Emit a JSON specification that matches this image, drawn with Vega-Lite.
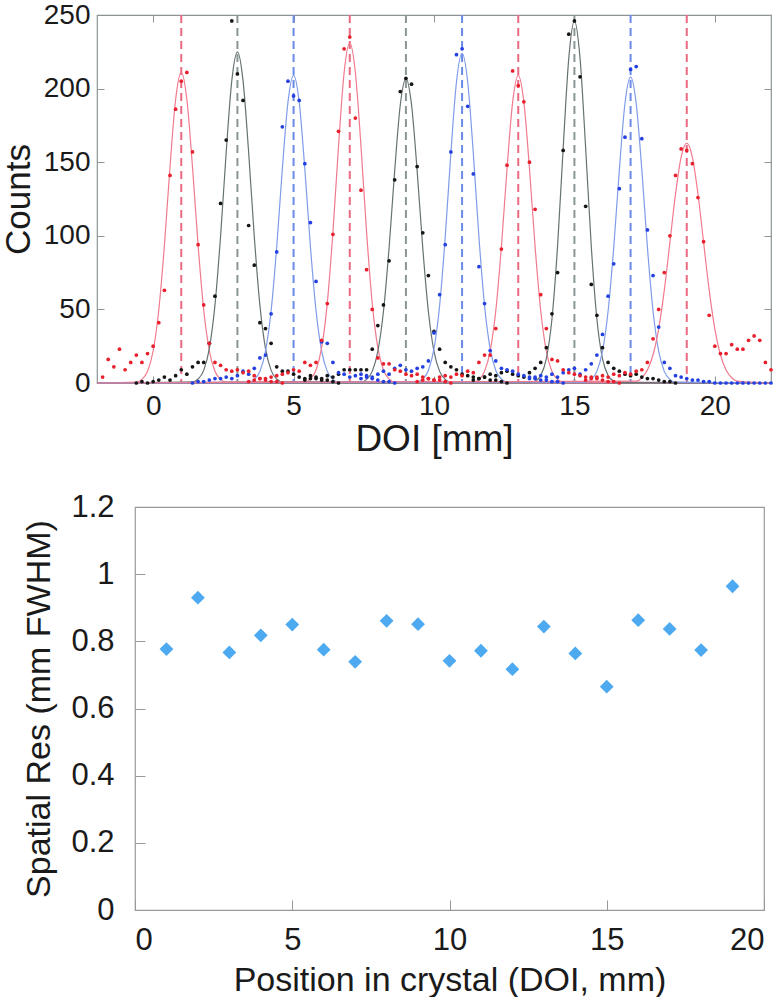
{
"$schema": "https://vega.github.io/schema/vega-lite/v6.json",
"padding": 0,
"config": {
 "view": {"stroke": null},
 "font": "Liberation Sans",
 "axis": {"grid": false, "domain": false, "labelColor": "#1a1a1a", "titleColor": "#1a1a1a", "titleFontWeight": "normal", "labelFont": "Liberation Sans", "titleFont": "Liberation Sans"}
},
"datasets": {
 "peaks": [
  {"s":"red","x":1},{"s":"black","x":3},{"s":"blue","x":5},{"s":"red","x":7},{"s":"black","x":9},
  {"s":"blue","x":11},{"s":"red","x":13},{"s":"black","x":15},{"s":"blue","x":17},{"s":"red","x":19}
 ],
 "fits": [
  {"s":"red","g":1,"x":-2,"y":0},{"s":"red","g":1,"x":-0.6,"y":0.6},{"s":"red","g":1,"x":-0.4,"y":2.5},{"s":"red","g":1,"x":-0.2,"y":8.0},{"s":"red","g":1,"x":0,"y":21.9},{"s":"red","g":1,"x":0.2,"y":49.6},{"s":"red","g":1,"x":0.4,"y":93.5},{"s":"red","g":1,"x":0.6,"y":146.9},{"s":"red","g":1,"x":0.8,"y":192.6},{"s":"red","g":1,"x":1.0,"y":211},{"s":"red","g":1,"x":1.2,"y":192.6},{"s":"red","g":1,"x":1.4,"y":146.9},{"s":"red","g":1,"x":1.6,"y":93.5},{"s":"red","g":1,"x":1.8,"y":49.6},{"s":"red","g":1,"x":2.0,"y":21.9},{"s":"red","g":1,"x":2.2,"y":8.0},{"s":"red","g":1,"x":2.4,"y":2.5},{"s":"red","g":1,"x":2.6,"y":0.6},{"s":"red","g":1,"x":22,"y":0},
  {"s":"black","g":2,"x":-2,"y":0},{"s":"black","g":2,"x":1.4,"y":0.7},{"s":"black","g":2,"x":1.6,"y":2.7},{"s":"black","g":2,"x":1.8,"y":8.6},{"s":"black","g":2,"x":2.0,"y":23.4},{"s":"black","g":2,"x":2.2,"y":52.9},{"s":"black","g":2,"x":2.4,"y":99.7},{"s":"black","g":2,"x":2.6,"y":156.6},{"s":"black","g":2,"x":2.8,"y":205.4},{"s":"black","g":2,"x":3.0,"y":225},{"s":"black","g":2,"x":3.2,"y":205.4},{"s":"black","g":2,"x":3.4,"y":156.6},{"s":"black","g":2,"x":3.6,"y":99.7},{"s":"black","g":2,"x":3.8,"y":52.9},{"s":"black","g":2,"x":4.0,"y":23.4},{"s":"black","g":2,"x":4.2,"y":8.6},{"s":"black","g":2,"x":4.4,"y":2.7},{"s":"black","g":2,"x":4.6,"y":0.7},{"s":"black","g":2,"x":22,"y":0},
  {"s":"blue","g":3,"x":-2,"y":0},{"s":"blue","g":3,"x":3.4,"y":0.6},{"s":"blue","g":3,"x":3.6,"y":2.5},{"s":"blue","g":3,"x":3.8,"y":7.9},{"s":"blue","g":3,"x":4.0,"y":21.7},{"s":"blue","g":3,"x":4.2,"y":49.1},{"s":"blue","g":3,"x":4.4,"y":92.6},{"s":"blue","g":3,"x":4.6,"y":145.5},{"s":"blue","g":3,"x":4.8,"y":190.8},{"s":"blue","g":3,"x":5.0,"y":209},{"s":"blue","g":3,"x":5.2,"y":190.8},{"s":"blue","g":3,"x":5.4,"y":145.5},{"s":"blue","g":3,"x":5.6,"y":92.6},{"s":"blue","g":3,"x":5.8,"y":49.1},{"s":"blue","g":3,"x":6.0,"y":21.7},{"s":"blue","g":3,"x":6.2,"y":7.9},{"s":"blue","g":3,"x":6.4,"y":2.5},{"s":"blue","g":3,"x":6.6,"y":0.6},{"s":"blue","g":3,"x":22,"y":0},
  {"s":"red","g":4,"x":-2,"y":0},{"s":"red","g":4,"x":5.4,"y":0.7},{"s":"red","g":4,"x":5.6,"y":2.8},{"s":"red","g":4,"x":5.8,"y":8.8},{"s":"red","g":4,"x":6.0,"y":24.0},{"s":"red","g":4,"x":6.2,"y":54.3},{"s":"red","g":4,"x":6.4,"y":102.3},{"s":"red","g":4,"x":6.6,"y":160.8},{"s":"red","g":4,"x":6.8,"y":210.9},{"s":"red","g":4,"x":7.0,"y":231},{"s":"red","g":4,"x":7.2,"y":210.9},{"s":"red","g":4,"x":7.4,"y":160.8},{"s":"red","g":4,"x":7.6,"y":102.3},{"s":"red","g":4,"x":7.8,"y":54.3},{"s":"red","g":4,"x":8.0,"y":24.0},{"s":"red","g":4,"x":8.2,"y":8.8},{"s":"red","g":4,"x":8.4,"y":2.8},{"s":"red","g":4,"x":8.6,"y":0.7},{"s":"red","g":4,"x":22,"y":0},
  {"s":"black","g":5,"x":-2,"y":0},{"s":"black","g":5,"x":7.4,"y":0.6},{"s":"black","g":5,"x":7.6,"y":2.5},{"s":"black","g":5,"x":7.8,"y":7.9},{"s":"black","g":5,"x":8.0,"y":21.5},{"s":"black","g":5,"x":8.2,"y":48.6},{"s":"black","g":5,"x":8.4,"y":91.7},{"s":"black","g":5,"x":8.6,"y":144.1},{"s":"black","g":5,"x":8.8,"y":189.0},{"s":"black","g":5,"x":9.0,"y":207},{"s":"black","g":5,"x":9.2,"y":189.0},{"s":"black","g":5,"x":9.4,"y":144.1},{"s":"black","g":5,"x":9.6,"y":91.7},{"s":"black","g":5,"x":9.8,"y":48.6},{"s":"black","g":5,"x":10.0,"y":21.5},{"s":"black","g":5,"x":10.2,"y":7.9},{"s":"black","g":5,"x":10.4,"y":2.5},{"s":"black","g":5,"x":10.6,"y":0.6},{"s":"black","g":5,"x":22,"y":0},
  {"s":"blue","g":6,"x":-2,"y":0},{"s":"blue","g":6,"x":9.4,"y":0.7},{"s":"blue","g":6,"x":9.6,"y":2.7},{"s":"blue","g":6,"x":9.8,"y":8.5},{"s":"blue","g":6,"x":10.0,"y":23.3},{"s":"blue","g":6,"x":10.2,"y":52.6},{"s":"blue","g":6,"x":10.4,"y":99.2},{"s":"blue","g":6,"x":10.6,"y":155.9},{"s":"blue","g":6,"x":10.8,"y":204.5},{"s":"blue","g":6,"x":11.0,"y":224},{"s":"blue","g":6,"x":11.2,"y":204.5},{"s":"blue","g":6,"x":11.4,"y":155.9},{"s":"blue","g":6,"x":11.6,"y":99.2},{"s":"blue","g":6,"x":11.8,"y":52.6},{"s":"blue","g":6,"x":12.0,"y":23.3},{"s":"blue","g":6,"x":12.2,"y":8.5},{"s":"blue","g":6,"x":12.4,"y":2.7},{"s":"blue","g":6,"x":12.6,"y":0.7},{"s":"blue","g":6,"x":22,"y":0},
  {"s":"red","g":7,"x":-2,"y":0},{"s":"red","g":7,"x":11.4,"y":0.6},{"s":"red","g":7,"x":11.6,"y":2.5},{"s":"red","g":7,"x":11.8,"y":7.9},{"s":"red","g":7,"x":12.0,"y":21.7},{"s":"red","g":7,"x":12.2,"y":49.1},{"s":"red","g":7,"x":12.4,"y":92.6},{"s":"red","g":7,"x":12.6,"y":145.5},{"s":"red","g":7,"x":12.8,"y":190.8},{"s":"red","g":7,"x":13.0,"y":209},{"s":"red","g":7,"x":13.2,"y":190.8},{"s":"red","g":7,"x":13.4,"y":145.5},{"s":"red","g":7,"x":13.6,"y":92.6},{"s":"red","g":7,"x":13.8,"y":49.1},{"s":"red","g":7,"x":14.0,"y":21.7},{"s":"red","g":7,"x":14.2,"y":7.9},{"s":"red","g":7,"x":14.4,"y":2.5},{"s":"red","g":7,"x":14.6,"y":0.6},{"s":"red","g":7,"x":22,"y":0},
  {"s":"black","g":8,"x":-2,"y":0},{"s":"black","g":8,"x":13.4,"y":0.2},{"s":"black","g":8,"x":13.6,"y":1.2},{"s":"black","g":8,"x":13.8,"y":5.0},{"s":"black","g":8,"x":14.0,"y":16.5},{"s":"black","g":8,"x":14.2,"y":43.5},{"s":"black","g":8,"x":14.4,"y":93.0},{"s":"black","g":8,"x":14.6,"y":159.7},{"s":"black","g":8,"x":14.8,"y":220.7},{"s":"black","g":8,"x":15.0,"y":246},{"s":"black","g":8,"x":15.2,"y":220.7},{"s":"black","g":8,"x":15.4,"y":159.7},{"s":"black","g":8,"x":15.6,"y":93.0},{"s":"black","g":8,"x":15.8,"y":43.5},{"s":"black","g":8,"x":16.0,"y":16.5},{"s":"black","g":8,"x":16.2,"y":5.0},{"s":"black","g":8,"x":16.4,"y":1.2},{"s":"black","g":8,"x":16.6,"y":0.2},{"s":"black","g":8,"x":22,"y":0},
  {"s":"blue","g":9,"x":-2,"y":0},{"s":"blue","g":9,"x":15.4,"y":0.6},{"s":"blue","g":9,"x":15.6,"y":2.5},{"s":"blue","g":9,"x":15.8,"y":7.9},{"s":"blue","g":9,"x":16.0,"y":21.6},{"s":"blue","g":9,"x":16.2,"y":48.9},{"s":"blue","g":9,"x":16.4,"y":92.1},{"s":"blue","g":9,"x":16.6,"y":144.8},{"s":"blue","g":9,"x":16.8,"y":189.9},{"s":"blue","g":9,"x":17.0,"y":208},{"s":"blue","g":9,"x":17.2,"y":189.9},{"s":"blue","g":9,"x":17.4,"y":144.8},{"s":"blue","g":9,"x":17.6,"y":92.1},{"s":"blue","g":9,"x":17.8,"y":48.9},{"s":"blue","g":9,"x":18.0,"y":21.6},{"s":"blue","g":9,"x":18.2,"y":7.9},{"s":"blue","g":9,"x":18.4,"y":2.5},{"s":"blue","g":9,"x":18.6,"y":0.6},{"s":"blue","g":9,"x":22,"y":0},
  {"s":"red","g":10,"x":-2,"y":0},{"s":"red","g":10,"x":17.2,"y":1.3},{"s":"red","g":10,"x":17.4,"y":3.6},{"s":"red","g":10,"x":17.6,"y":8.8},{"s":"red","g":10,"x":17.8,"y":19.2},{"s":"red","g":10,"x":18.0,"y":36.8},{"s":"red","g":10,"x":18.2,"y":62.9},{"s":"red","g":10,"x":18.4,"y":95.5},{"s":"red","g":10,"x":18.6,"y":128.4},{"s":"red","g":10,"x":18.8,"y":153.5},{"s":"red","g":10,"x":19.0,"y":163},{"s":"red","g":10,"x":19.2,"y":153.5},{"s":"red","g":10,"x":19.4,"y":128.4},{"s":"red","g":10,"x":19.6,"y":95.5},{"s":"red","g":10,"x":19.8,"y":62.9},{"s":"red","g":10,"x":20.0,"y":36.8},{"s":"red","g":10,"x":20.2,"y":19.2},{"s":"red","g":10,"x":20.4,"y":8.8},{"s":"red","g":10,"x":20.6,"y":3.6},{"s":"red","g":10,"x":20.8,"y":1.3},{"s":"red","g":10,"x":22,"y":0}
 ],
 "dots": [
  {"s":"black","x":-0.6,"y":0},{"s":"black","x":-0.4,"y":1},{"s":"black","x":-0.2,"y":0},{"s":"black","x":0,"y":1},{"s":"black","x":0.2,"y":2},{"s":"black","x":0.4,"y":4},{"s":"black","x":0.6,"y":2},{"s":"black","x":0.8,"y":5},{"s":"black","x":1,"y":9},{"s":"black","x":1.2,"y":6},{"s":"black","x":1.4,"y":11},{"s":"black","x":1.6,"y":14},{"s":"black","x":1.8,"y":14},{"s":"black","x":2,"y":27},{"s":"black","x":2.2,"y":59},{"s":"black","x":2.4,"y":122},{"s":"black","x":2.6,"y":165},{"s":"black","x":2.8,"y":246},{"s":"black","x":3,"y":210},{"s":"black","x":3.2,"y":192},{"s":"black","x":3.4,"y":107},{"s":"black","x":3.6,"y":80},{"s":"black","x":3.8,"y":41},{"s":"black","x":4,"y":37},{"s":"black","x":4.2,"y":27},{"s":"black","x":4.4,"y":11},{"s":"black","x":4.6,"y":8},{"s":"black","x":4.8,"y":8},{"s":"black","x":5,"y":6},{"s":"black","x":5.2,"y":4},{"s":"black","x":5.4,"y":3},{"s":"black","x":5.6,"y":5},{"s":"black","x":5.8,"y":3},{"s":"black","x":6,"y":2},{"s":"black","x":6.2,"y":2},{"s":"black","x":6.4,"y":1},{"s":"black","x":6.6,"y":0},
  {"s":"black","x":5.4,"y":2},{"s":"black","x":5.6,"y":3},{"s":"black","x":5.8,"y":4},{"s":"black","x":6,"y":3},{"s":"black","x":6.2,"y":5},{"s":"black","x":6.4,"y":4},{"s":"black","x":6.6,"y":6},{"s":"black","x":6.8,"y":9},{"s":"black","x":7,"y":9},{"s":"black","x":7.2,"y":9},{"s":"black","x":7.4,"y":9},{"s":"black","x":7.6,"y":9},{"s":"black","x":7.8,"y":23},{"s":"black","x":8,"y":39},{"s":"black","x":8.2,"y":53},{"s":"black","x":8.4,"y":83},{"s":"black","x":8.6,"y":138},{"s":"black","x":8.8,"y":198},{"s":"black","x":9,"y":207},{"s":"black","x":9.2,"y":203},{"s":"black","x":9.4,"y":147},{"s":"black","x":9.6,"y":102},{"s":"black","x":9.8,"y":73},{"s":"black","x":10,"y":35},{"s":"black","x":10.2,"y":23},{"s":"black","x":10.4,"y":14},{"s":"black","x":10.6,"y":11},{"s":"black","x":10.8,"y":9},{"s":"black","x":11,"y":6},{"s":"black","x":11.2,"y":5},{"s":"black","x":11.4,"y":4},{"s":"black","x":11.6,"y":3},{"s":"black","x":11.8,"y":4},{"s":"black","x":12,"y":2},{"s":"black","x":12.2,"y":2},{"s":"black","x":12.4,"y":1},{"s":"black","x":12.6,"y":0},
  {"s":"black","x":11.4,"y":2},{"s":"black","x":11.6,"y":3},{"s":"black","x":11.8,"y":4},{"s":"black","x":12,"y":6},{"s":"black","x":12.2,"y":5},{"s":"black","x":12.4,"y":7},{"s":"black","x":12.6,"y":8},{"s":"black","x":12.8,"y":6},{"s":"black","x":13,"y":5},{"s":"black","x":13.2,"y":4},{"s":"black","x":13.4,"y":7},{"s":"black","x":13.6,"y":10},{"s":"black","x":13.8,"y":14},{"s":"black","x":14,"y":24},{"s":"black","x":14.2,"y":47},{"s":"black","x":14.4,"y":75},{"s":"black","x":14.6,"y":158},{"s":"black","x":14.8,"y":237},{"s":"black","x":15,"y":246},{"s":"black","x":15.2,"y":208},{"s":"black","x":15.4,"y":120},{"s":"black","x":15.6,"y":67},{"s":"black","x":15.8,"y":46},{"s":"black","x":16,"y":24},{"s":"black","x":16.2,"y":14},{"s":"black","x":16.4,"y":10},{"s":"black","x":16.6,"y":8},{"s":"black","x":16.8,"y":6},{"s":"black","x":17,"y":5},{"s":"black","x":17.2,"y":6},{"s":"black","x":17.4,"y":4},{"s":"black","x":17.6,"y":3},{"s":"black","x":17.8,"y":3},{"s":"black","x":18,"y":2},{"s":"black","x":18.2,"y":1},{"s":"black","x":18.4,"y":1},{"s":"black","x":18.6,"y":0},
  {"s":"blue","x":1.4,"y":0},{"s":"blue","x":1.6,"y":1},{"s":"blue","x":1.8,"y":1},{"s":"blue","x":2,"y":2},{"s":"blue","x":2.2,"y":3},{"s":"blue","x":2.4,"y":3},{"s":"blue","x":2.6,"y":4},{"s":"blue","x":2.8,"y":3},{"s":"blue","x":3,"y":5},{"s":"blue","x":3.2,"y":8},{"s":"blue","x":3.4,"y":6},{"s":"blue","x":3.6,"y":10},{"s":"blue","x":3.8,"y":17},{"s":"blue","x":4,"y":19},{"s":"blue","x":4.2,"y":47},{"s":"blue","x":4.4,"y":89},{"s":"blue","x":4.6,"y":174},{"s":"blue","x":4.8,"y":205},{"s":"blue","x":5,"y":195},{"s":"blue","x":5.2,"y":192},{"s":"blue","x":5.4,"y":149},{"s":"blue","x":5.6,"y":109},{"s":"blue","x":5.8,"y":69},{"s":"blue","x":6,"y":28},{"s":"blue","x":6.2,"y":27},{"s":"blue","x":6.4,"y":14},{"s":"blue","x":6.6,"y":7},{"s":"blue","x":6.8,"y":6},{"s":"blue","x":7,"y":4},{"s":"blue","x":7.2,"y":5},{"s":"blue","x":7.4,"y":6},{"s":"blue","x":7.6,"y":4},{"s":"blue","x":7.8,"y":3},{"s":"blue","x":8,"y":2},{"s":"blue","x":8.2,"y":1},{"s":"blue","x":8.4,"y":1},{"s":"blue","x":8.6,"y":0},
  {"s":"blue","x":7.4,"y":3},{"s":"blue","x":7.6,"y":5},{"s":"blue","x":7.8,"y":4},{"s":"blue","x":8,"y":6},{"s":"blue","x":8.2,"y":8},{"s":"blue","x":8.4,"y":6},{"s":"blue","x":8.6,"y":10},{"s":"blue","x":8.8,"y":12},{"s":"blue","x":9,"y":9},{"s":"blue","x":9.2,"y":8},{"s":"blue","x":9.4,"y":10},{"s":"blue","x":9.6,"y":11},{"s":"blue","x":9.8,"y":15},{"s":"blue","x":10,"y":34},{"s":"blue","x":10.2,"y":60},{"s":"blue","x":10.4,"y":94},{"s":"blue","x":10.6,"y":157},{"s":"blue","x":10.8,"y":223},{"s":"blue","x":11,"y":227},{"s":"blue","x":11.2,"y":188},{"s":"blue","x":11.4,"y":142},{"s":"blue","x":11.6,"y":79},{"s":"blue","x":11.8,"y":54},{"s":"blue","x":12,"y":22},{"s":"blue","x":12.2,"y":15},{"s":"blue","x":12.4,"y":10},{"s":"blue","x":12.6,"y":9},{"s":"blue","x":12.8,"y":8},{"s":"blue","x":13,"y":6},{"s":"blue","x":13.2,"y":5},{"s":"blue","x":13.4,"y":4},{"s":"blue","x":13.6,"y":3},{"s":"blue","x":13.8,"y":2},{"s":"blue","x":14,"y":2},{"s":"blue","x":14.2,"y":1},{"s":"blue","x":14.4,"y":1},{"s":"blue","x":14.6,"y":0},
  {"s":"blue","x":13.4,"y":3},{"s":"blue","x":13.6,"y":4},{"s":"blue","x":13.8,"y":5},{"s":"blue","x":14,"y":4},{"s":"blue","x":14.2,"y":6},{"s":"blue","x":14.4,"y":4},{"s":"blue","x":14.6,"y":7},{"s":"blue","x":14.8,"y":9},{"s":"blue","x":15,"y":10},{"s":"blue","x":15.2,"y":6},{"s":"blue","x":15.4,"y":9},{"s":"blue","x":15.6,"y":13},{"s":"blue","x":15.8,"y":19},{"s":"blue","x":16,"y":33},{"s":"blue","x":16.2,"y":59},{"s":"blue","x":16.4,"y":81},{"s":"blue","x":16.6,"y":132},{"s":"blue","x":16.8,"y":167},{"s":"blue","x":17,"y":213},{"s":"blue","x":17.2,"y":215},{"s":"blue","x":17.4,"y":166},{"s":"blue","x":17.6,"y":104},{"s":"blue","x":17.8,"y":73},{"s":"blue","x":18,"y":38},{"s":"blue","x":18.2,"y":14},{"s":"blue","x":18.4,"y":10},{"s":"blue","x":18.6,"y":5},{"s":"blue","x":18.8,"y":4},{"s":"blue","x":19,"y":3},{"s":"blue","x":19.2,"y":2},{"s":"blue","x":19.4,"y":2},{"s":"blue","x":19.6,"y":1},{"s":"blue","x":19.8,"y":1},{"s":"blue","x":20,"y":0},{"s":"blue","x":20.2,"y":0},{"s":"blue","x":20.4,"y":0},{"s":"blue","x":20.6,"y":0},{"s":"blue","x":20.8,"y":0},{"s":"blue","x":21,"y":0},{"s":"blue","x":21.2,"y":0},{"s":"blue","x":21.4,"y":0},{"s":"blue","x":21.6,"y":0},{"s":"blue","x":21.8,"y":0},{"s":"blue","x":22,"y":0},
  {"s":"red","x":-1.8,"y":4},{"s":"red","x":-1.6,"y":16},{"s":"red","x":-1.4,"y":11},{"s":"red","x":-1.2,"y":23},{"s":"red","x":-1,"y":9},{"s":"red","x":-0.8,"y":14},{"s":"red","x":-0.6,"y":19},{"s":"red","x":-0.4,"y":14},{"s":"red","x":-0.2,"y":20},{"s":"red","x":0,"y":25},{"s":"red","x":0.2,"y":41},{"s":"red","x":0.4,"y":63},{"s":"red","x":0.6,"y":141},{"s":"red","x":0.8,"y":186},{"s":"red","x":1,"y":205},{"s":"red","x":1.2,"y":211},{"s":"red","x":1.4,"y":157},{"s":"red","x":1.6,"y":94},{"s":"red","x":1.8,"y":53},{"s":"red","x":2,"y":27},{"s":"red","x":2.2,"y":14},{"s":"red","x":2.4,"y":12},{"s":"red","x":2.6,"y":9},{"s":"red","x":2.8,"y":8},{"s":"red","x":3,"y":9},{"s":"red","x":3.2,"y":7},{"s":"red","x":3.4,"y":8},{"s":"red","x":3.6,"y":5},{"s":"red","x":3.8,"y":3},{"s":"red","x":4,"y":2},{"s":"red","x":4.2,"y":1},{"s":"red","x":4.4,"y":1},{"s":"red","x":4.6,"y":0},
  {"s":"red","x":3.4,"y":1},{"s":"red","x":3.6,"y":2},{"s":"red","x":3.8,"y":3},{"s":"red","x":4,"y":3},{"s":"red","x":4.2,"y":4},{"s":"red","x":4.4,"y":5},{"s":"red","x":4.6,"y":6},{"s":"red","x":4.8,"y":7},{"s":"red","x":5,"y":9},{"s":"red","x":5.2,"y":8},{"s":"red","x":5.4,"y":14},{"s":"red","x":5.6,"y":12},{"s":"red","x":5.8,"y":14},{"s":"red","x":6,"y":29},{"s":"red","x":6.2,"y":54},{"s":"red","x":6.4,"y":101},{"s":"red","x":6.6,"y":171},{"s":"red","x":6.8,"y":227},{"s":"red","x":7,"y":235},{"s":"red","x":7.2,"y":180},{"s":"red","x":7.4,"y":131},{"s":"red","x":7.6,"y":77},{"s":"red","x":7.8,"y":50},{"s":"red","x":8,"y":17},{"s":"red","x":8.2,"y":13},{"s":"red","x":8.4,"y":13},{"s":"red","x":8.6,"y":9},{"s":"red","x":8.8,"y":8},{"s":"red","x":9,"y":6},{"s":"red","x":9.2,"y":5},{"s":"red","x":9.4,"y":6},{"s":"red","x":9.6,"y":4},{"s":"red","x":9.8,"y":3},{"s":"red","x":10,"y":2},{"s":"red","x":10.2,"y":2},{"s":"red","x":10.4,"y":1},{"s":"red","x":10.6,"y":0},
  {"s":"red","x":9.4,"y":1},{"s":"red","x":9.6,"y":2},{"s":"red","x":9.8,"y":3},{"s":"red","x":10,"y":2},{"s":"red","x":10.2,"y":4},{"s":"red","x":10.4,"y":5},{"s":"red","x":10.6,"y":4},{"s":"red","x":10.8,"y":6},{"s":"red","x":11,"y":5},{"s":"red","x":11.2,"y":8},{"s":"red","x":11.4,"y":7},{"s":"red","x":11.6,"y":14},{"s":"red","x":11.8,"y":19},{"s":"red","x":12,"y":19},{"s":"red","x":12.2,"y":37},{"s":"red","x":12.4,"y":91},{"s":"red","x":12.6,"y":148},{"s":"red","x":12.8,"y":212},{"s":"red","x":13,"y":202},{"s":"red","x":13.2,"y":191},{"s":"red","x":13.4,"y":150},{"s":"red","x":13.6,"y":118},{"s":"red","x":13.8,"y":60},{"s":"red","x":14,"y":37},{"s":"red","x":14.2,"y":16},{"s":"red","x":14.4,"y":15},{"s":"red","x":14.6,"y":9},{"s":"red","x":14.8,"y":7},{"s":"red","x":15,"y":6},{"s":"red","x":15.2,"y":5},{"s":"red","x":15.4,"y":4},{"s":"red","x":15.6,"y":4},{"s":"red","x":15.8,"y":3},{"s":"red","x":16,"y":2},{"s":"red","x":16.2,"y":1},{"s":"red","x":16.4,"y":1},{"s":"red","x":16.6,"y":0},
  {"s":"red","x":15.4,"y":2},{"s":"red","x":15.6,"y":3},{"s":"red","x":15.8,"y":4},{"s":"red","x":16,"y":5},{"s":"red","x":16.2,"y":4},{"s":"red","x":16.4,"y":6},{"s":"red","x":16.6,"y":5},{"s":"red","x":16.8,"y":7},{"s":"red","x":17,"y":6},{"s":"red","x":17.2,"y":8},{"s":"red","x":17.4,"y":9},{"s":"red","x":17.6,"y":14},{"s":"red","x":17.8,"y":30},{"s":"red","x":18,"y":50},{"s":"red","x":18.2,"y":75},{"s":"red","x":18.4,"y":100},{"s":"red","x":18.6,"y":141},{"s":"red","x":18.8,"y":159},{"s":"red","x":19,"y":158},{"s":"red","x":19.2,"y":149},{"s":"red","x":19.4,"y":126},{"s":"red","x":19.6,"y":96},{"s":"red","x":19.8,"y":46},{"s":"red","x":20,"y":25},{"s":"red","x":20.2,"y":20},{"s":"red","x":20.4,"y":20},{"s":"red","x":20.6,"y":26},{"s":"red","x":20.8,"y":23},{"s":"red","x":21,"y":23},{"s":"red","x":21.2,"y":29},{"s":"red","x":21.4,"y":32},{"s":"red","x":21.6,"y":29},{"s":"red","x":21.8,"y":14},{"s":"red","x":22,"y":9}
 ],
 "res": [
  {"pos":1,"res":0.777},{"pos":2,"res":0.930},{"pos":3,"res":0.767},{"pos":4,"res":0.818},{"pos":5,"res":0.850},
  {"pos":6,"res":0.775},{"pos":7,"res":0.739},{"pos":8,"res":0.861},{"pos":9,"res":0.851},{"pos":10,"res":0.742},
  {"pos":11,"res":0.772},{"pos":12,"res":0.717},{"pos":13,"res":0.844},{"pos":14,"res":0.764},{"pos":15,"res":0.665},
  {"pos":16,"res":0.863},{"pos":17,"res":0.837},{"pos":18,"res":0.774},{"pos":19,"res":0.964}
 ]
},
"spacing": 124,
"bounds": "flush",
"vconcat": [
 {
  "width": 674,
  "height": 368,
  "view": {"stroke": "#8c9494", "strokeWidth": 1.2},
  "resolve": {"scale": {"color": "independent"}},
  "layer": [
   {
    "data": {"name": "peaks"},
    "mark": {"type": "rule", "strokeDash": [8, 5], "strokeWidth": 2},
    "encoding": {
     "x": {"field": "x", "type": "quantitative", "scale": {"domain": [-2, 22], "nice": false}, "axis": null},
     "color": {"field": "s", "type": "nominal", "scale": {"domain": ["red", "black", "blue"], "range": ["#ea6a82", "#8a9696", "#6a8ae6"]}, "legend": null}
    }
   },
   {
    "data": {"name": "fits"},
    "mark": {"type": "line", "interpolate": "monotone", "strokeWidth": 1.2},
    "encoding": {
     "x": {"field": "x", "type": "quantitative", "scale": {"domain": [-2, 22], "nice": false},
      "axis": {"orient": "bottom", "values": [0, 5, 10, 15, 20], "title": "DOI [mm]", "labelFontSize": 28, "titleFontSize": 37, "tickSize": -7, "tickColor": "#8c9494", "labelPadding": 16, "titlePadding": 1}},
     "y": {"field": "y", "type": "quantitative", "scale": {"domain": [0, 250], "nice": false},
      "axis": {"orient": "left", "values": [0, 50, 100, 150, 200, 250], "title": "Counts", "labelFontSize": 28, "titleFontSize": 35, "tickSize": -7, "tickColor": "#8c9494", "labelPadding": 14, "titlePadding": 7}},
     "detail": {"field": "g", "type": "nominal"},
     "color": {"field": "s", "type": "nominal", "scale": {"domain": ["red", "black", "blue"], "range": ["#f07a8e", "#667272", "#7f9ce8"]}, "legend": null}
    }
   },
   {
    "data": {"name": "dots"},
    "mark": {"type": "point", "filled": true, "size": 14, "opacity": 1},
    "encoding": {
     "x": {"field": "x", "type": "quantitative", "scale": {"domain": [-2, 22], "nice": false},
      "axis": {"orient": "top", "values": [0, 5, 10, 15, 20], "labels": false, "title": null, "tickSize": -7, "tickColor": "#8c9494"}},
     "y": {"field": "y", "type": "quantitative", "scale": {"domain": [0, 250], "nice": false},
      "axis": {"orient": "right", "values": [0, 50, 100, 150, 200, 250], "labels": false, "title": null, "tickSize": -7, "tickColor": "#8c9494"}},
     "color": {"field": "s", "type": "nominal", "scale": {"domain": ["red", "black", "blue"], "range": ["#e8202e", "#151515", "#2440e0"]}, "legend": null}
    }
   }
  ]
 },
 {
  "spacing": 0,
  "bounds": "flush",
  "hconcat": [
   {
    "width": 38,
    "height": 10,
    "view": {"stroke": null},
    "data": {"values": [{}]},
    "mark": {"type": "text"},
    "encoding": {"text": {"value": ""}}
   },
   {
    "width": 629,
    "height": 403,
    "view": {"stroke": "#999999", "strokeWidth": 1.2},
    "data": {"name": "res"},
    "mark": {"type": "point", "shape": "diamond", "filled": true, "size": 190, "color": "#4da9f0", "opacity": 1},
    "encoding": {
     "x": {"field": "pos", "type": "quantitative", "scale": {"domain": [0, 20], "nice": false},
      "axis": {"values": [0, 5, 10, 15, 20], "title": "Position in crystal (DOI, mm)", "labelFontSize": 31, "titleFontSize": 34, "tickSize": -10, "tickColor": "#999999", "labelPadding": 25, "titlePadding": 8}},
     "y": {"field": "res", "type": "quantitative", "scale": {"domain": [0, 1.2], "nice": false},
      "axis": {"values": [0, 0.2, 0.4, 0.6, 0.8, 1, 1.2], "format": "~g", "title": "Spatial Res (mm FWHM)", "labelFontSize": 31, "titleFontSize": 34, "tickSize": -10, "tickColor": "#999999", "labelPadding": 31, "titlePadding": 14}}
    }
   }
  ]
 }
]
}
